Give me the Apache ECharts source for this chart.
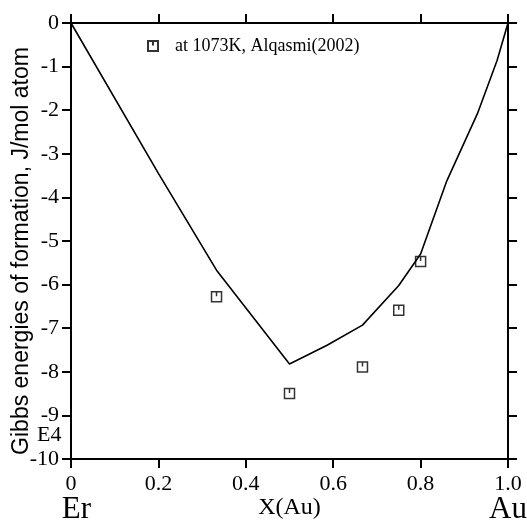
<!DOCTYPE html>
<html>
<head>
<meta charset="utf-8">
<script src="https://cdn.jsdelivr.net/npm/echarts@6/dist/echarts.min.js"></script>
<style>
  html, body { margin: 0; padding: 0; background: #fff; }
  #main { width: 527px; height: 520px; }
</style>
</head>
<body>
<div id="main"></div>
<script>
// calculated curve (mole fraction Au vs energy, x1e4 J/mol atom)
const calcX = [0, 0.2, 0.333, 0.5, 0.586, 0.667, 0.75, 0.8, 0.86, 0.93, 0.975, 1];
const calcY = [0, -3.45, -5.67, -7.82, -7.39, -6.93, -6.02, -5.3, -3.62, -2.08, -0.86, 0];
// experimental points, Alqasmi(2002)
const expX = [0.333, 0.5, 0.667, 0.75, 0.8];
const expY = [-6.28, -8.5, -7.89, -6.59, -5.47];
const expName = 'at 1073K, Alqasmi(2002)';
const serif = 'Liberation Serif';
const squareMark = 'path://M0,0H10V10H0Z M5,0V4.5';

const chartDom = document.getElementById('main');
const myChart = echarts.init(chartDom, null, { renderer: 'canvas' });

const axisLine = { show: true, onZero: false, lineStyle: { color: '#000', width: 2 } };
const axisTick = { show: true, inside: false, length: 9, lineStyle: { color: '#000', width: 2 } };

let option = {
    backgroundColor: '#fff',
    animation: false,
    grid: { left: 71, right: 19, top: 23, bottom: 61, containLabel: false, outerBoundsMode: 'none' },
    legend: {
        data: [expName],
        left: 142,
        top: 32,
        itemWidth: 10,
        itemHeight: 10,
        textStyle: { fontFamily: serif, fontSize: 18, color: '#000', padding: [0, 0, 0, 12] }
    },
    xAxis: [
        {
            type: 'value',
            min: 0, max: 1, interval: 0.2,
            position: 'bottom',
            axisLine, axisTick,
            splitLine: { show: false },
            axisLabel: {
                margin: 15,
                fontFamily: serif, fontSize: 22, color: '#000', lineHeight: 20,
                formatter: v => {
                    if (v === 0) return '0\n{er|Er}';
                    if (Math.abs(v - 1) < 1e-9) return '1.0\n{big|Au}';
                    return v.toFixed(1);
                },
                rich: {
                    big: { fontFamily: serif, fontSize: 31, lineHeight: 32, color: '#000' },
                    er: { fontFamily: serif, fontSize: 31, lineHeight: 32, color: '#000', padding: [0, 0, 0, 11] }
                }
            },
            name: 'X(Au)',
            nameLocation: 'middle',
            nameGap: 37,
            nameMoveOverlap: false,
            nameTextStyle: { fontFamily: serif, fontSize: 24, color: '#000' }
        },
        {
            type: 'value',
            min: 0, max: 1, interval: 0.2,
            position: 'top',
            axisLine, axisTick,
            splitLine: { show: false },
            axisLabel: { show: false }
        }
    ],
    yAxis: [
        {
            type: 'value',
            min: -10, max: 0, interval: 1,
            position: 'left',
            axisLine, axisTick,
            splitLine: { show: false },
            axisLabel: { margin: 12, fontFamily: serif, fontSize: 22, color: '#000' },
            name: 'Gibbs energies of formation, J/mol atom',
            nameLocation: 'middle',
            nameGap: 38,
            nameMoveOverlap: false,
            nameTextStyle: { fontFamily: 'Liberation Sans', fontSize: 23, color: '#000', padding: [0, 20, 0, 0] }
        },
        {
            type: 'value',
            min: -10, max: 0, interval: 1,
            position: 'right',
            axisLine, axisTick,
            splitLine: { show: false },
            axisLabel: { show: false }
        }
    ],
    graphic: [
        {
            type: 'text',
            left: 37,
            top: 424,
            style: { text: 'E4', font: '22px "Liberation Serif"', fill: '#000' }
        }
    ],
    series: [
        {
            name: 'calc',
            type: 'line',
            data: calcX.map((x, i) => [x, calcY[i]]),
            showSymbol: false,
            symbol: 'none',
            lineStyle: { color: '#000', width: 1.6 },
            z: 2
        },
        {
            name: expName,
            type: 'scatter',
            data: expX.map((x, i) => [x, expY[i]]),
            symbol: squareMark,
            symbolSize: 10,
            itemStyle: { color: 'rgba(0,0,0,0)', borderColor: '#000', borderWidth: 1.5 },
            z: 3
        }
    ]
};

option && myChart.setOption(option);
</script>
</body>
</html>
